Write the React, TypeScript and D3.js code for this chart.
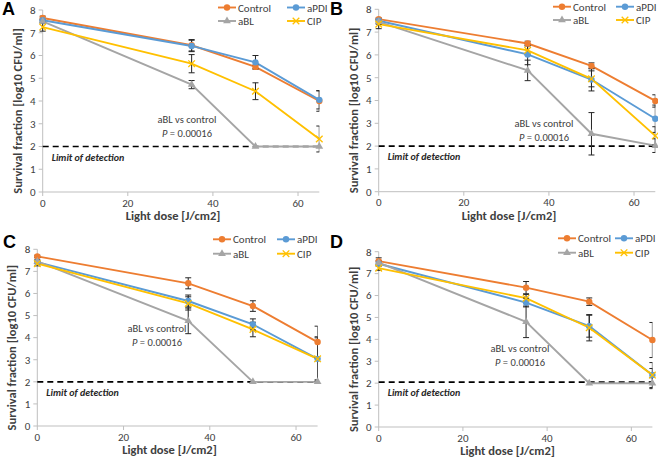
import React from "react";
import * as d3 from "d3";

// ---------- data ----------
const doses = [0, 35, 50, 65];
const seriesNames = ["Control", "aPDI", "aBL", "CIP"];
const panelLabels = ["A", "B", "C", "D"];
const xTicks = [0, 20, 40, 60];
const yTicks = [0, 1, 2, 3, 4, 5, 6, 7, 8];
const limitOfDetection = [2.0, 2.0, 2.0, 2.05];

// panel A
const controlA = [7.65, 6.45, 5.5, 4.0];
const controlErrA = [0.08, 0.25, 0.08, 0.45];
const aPDIA = [7.55, 6.42, 5.7, 4.05];
const aPDIErrA = [0.05, 0.25, 0.3, 0.4];
const aBLA = [7.5, 4.72, 2.0, 2.0];
const aBLErrA = [0.05, 0.18, 0, 0];
const cipA = [7.25, 5.64, 4.43, 2.33];
const cipErrA = [0.18, 0.4, 0.37, 0.57];

// panel B
const controlB = [7.57, 6.5, 5.52, 3.98];
const controlErrB = [0.05, 0.1, 0.13, 0.27];
const aPDIB = [7.5, 6.02, 4.92, 3.2];
const aPDIErrB = [0.1, 0.45, 0.5, 0.6];
const aBLB = [7.45, 5.32, 2.54, 2.02];
const aBLErrB = [0.1, 0.45, 0.93, 0.3];
const cipB = [7.35, 6.2, 4.95, 2.45];
const cipErrB = [0.2, 0.2, 0.35, 0.4];

// panel C
const controlC = [7.68, 6.46, 5.43, 3.8];
const controlErrC = [0.05, 0.25, 0.24, 0.72];
const aPDIC = [7.42, 5.66, 4.6, 3.04];
const aPDIErrC = [0.05, 0.27, 0.25, 1.0];
const aBLC = [7.45, 4.76, 2.0, 2.0];
const aBLErrC = [0.1, 0.58, 0, 0];
const cipC = [7.35, 5.55, 4.37, 3.04];
const cipErrC = [0.1, 0.3, 0.33, 0.95];

// panel D
const controlD = [7.57, 6.36, 5.72, 3.97];
const controlErrD = [0.15, 0.28, 0.17, 0.8];
const aPDID = [7.45, 5.68, 4.6, 2.37];
const aPDIErrD = [0.1, 0.2, 0.5, 0.57];
const aBLD = [7.5, 4.8, 2.0, 2.0];
const aBLErrD = [0.1, 0.72, 0, 0.25];
const cipD = [7.25, 5.88, 4.53, 2.37];
const cipErrD = [0.1, 0.17, 0.6, 0.3];

const panelValues = [
  [controlA, aPDIA, aBLA, cipA],
  [controlB, aPDIB, aBLB, cipB],
  [controlC, aPDIC, aBLC, cipC],
  [controlD, aPDID, aBLD, cipD],
];
const panelErrors = [
  [controlErrA, aPDIErrA, aBLErrA, cipErrA],
  [controlErrB, aPDIErrB, aBLErrB, cipErrB],
  [controlErrC, aPDIErrC, aBLErrC, cipErrC],
  [controlErrD, aPDIErrD, aBLErrD, cipErrD],
];

// ---------- styles / layout ----------
const colors = ["#ED7D31", "#5B9BD5", "#A5A5A5", "#FFC000"];
const FONT = "Carlito, Lato, 'Open Sans', sans-serif";
const axisColor = "#BFBFBF";
const textColor = "#404040";

const layouts = [
  { left: 42.7, right: 319.3, top: 10, bottom: 192, lx1: 218, lx2: 287, ly1: 7.5, ly2: 21, labX: 2, labY: 15, annX: 187, annY: 119 },
  { left: 378.7, right: 655.3, top: 9.3, bottom: 191.7, lx1: 553, lx2: 616, ly1: 6.7, ly2: 20, labX: 330, labY: 15, annX: 544, annY: 123 },
  { left: 37.3, right: 317.6, top: 249.3, bottom: 426, lx1: 213, lx2: 277, ly1: 239.3, ly2: 253.7, labX: 3, labY: 248, annX: 157, annY: 328 },
  { left: 378.7, right: 652.4, top: 251.7, bottom: 427, lx1: 558, lx2: 615, ly1: 238.3, ly2: 252.7, labX: 330, labY: 248, annX: 520, annY: 348 },
];

function Marker({ kind, x, y, color }: { kind: number; x: number; y: number; color: string }) {
  if (kind === 0 || kind === 1) {
    return <circle cx={x} cy={y} r={3.2} fill={color} />;
  }
  if (kind === 2) {
    const p = d3.symbol(d3.symbolTriangle, 26)();
    return <path d={p || ""} transform={`translate(${x},${y})`} fill={color} />;
  }
  const s = 3.3;
  return (
    <path
      d={`M${x - s},${y - s}L${x + s},${y + s}M${x - s},${y + s}L${x + s},${y - s}`}
      stroke={color}
      strokeWidth={1.3}
      fill="none"
    />
  );
}

function Panel({ idx }: { idx: number }) {
  const L = layouts[idx];
  const x = d3.scaleLinear().domain([0, 65]).range([L.left, L.right]);
  const y = d3.scaleLinear().domain([0, 8]).range([L.bottom, L.top]);
  const vals = panelValues[idx];
  const errs = panelErrors[idx];
  const clipId = `clip-${idx}`;
  const line = d3
    .line<number>()
    .x((_, i) => x(doses[i]))
    .y((v) => y(v));
  const lod = limitOfDetection[idx];
  const legendPos = [
    [L.lx1, L.ly1],
    [L.lx2, L.ly1],
    [L.lx1, L.ly2],
    [L.lx2, L.ly2],
  ];
  const titleCx = (L.left + L.right) / 2 - 8;
  const titleCy = (L.top + L.bottom) / 2 + 10;
  return (
    <g>
      <defs>
        <clipPath id={clipId}>
          <rect x={L.left - 30} y={L.top - 30} width={L.right - L.left + 30} height={L.bottom - L.top + 60} />
        </clipPath>
      </defs>
      {/* axes */}
      <line x1={L.left} x2={L.left} y1={L.top} y2={L.bottom} stroke={axisColor} strokeWidth={1} />
      <line x1={L.left} x2={L.right} y1={L.bottom} y2={L.bottom} stroke={axisColor} strokeWidth={1} />
      {yTicks.map((t) => (
        <g key={`yt${t}`}>
          <line x1={L.left - 4} x2={L.left} y1={y(t)} y2={y(t)} stroke={axisColor} />
          <text x={L.left - 7} y={y(t) + 3.8} textAnchor="end" fontSize={11} fill={textColor} fontFamily={FONT}>
            {t}
          </text>
        </g>
      ))}
      {xTicks.map((t) => (
        <g key={`xt${t}`}>
          <line x1={x(t)} x2={x(t)} y1={L.bottom} y2={L.bottom + 4} stroke={axisColor} />
          <text x={x(t)} y={L.bottom + 14.5} textAnchor="middle" fontSize={11} fill={textColor} fontFamily={FONT}>
            {t}
          </text>
        </g>
      ))}
      {/* axis titles */}
      <text
        x={titleCx}
        y={L.bottom + 28}
        textAnchor="middle"
        fontSize={12.5}
        fontWeight="bold"
        fill={textColor}
        fontFamily={FONT}
      >
        Light dose [J/cm2]
      </text>
      <text
        transform={`translate(${L.left - 21},${titleCy}) rotate(-90)`}
        textAnchor="middle"
        fontSize={12.5}
        fontWeight="bold"
        fill={textColor}
        fontFamily={FONT}
      >
        Survival fraction [log10 CFU/ml]
      </text>
      {/* panel label */}
      <text x={L.labX} y={L.labY} fontSize={18} fontWeight="bold" fill="#000" fontFamily="'Liberation Sans', Arial, sans-serif">
        {panelLabels[idx]}
      </text>
      {/* limit of detection */}
      <line
        x1={x(0)}
        x2={x(65)}
        y1={y(lod)}
        y2={y(lod)}
        stroke="#000"
        strokeWidth={1.6}
        strokeDasharray="6,4"
      />
      <text
        x={x(0) + 9}
        y={y(lod) + 14}
        fontSize={10}
        fontStyle="italic"
        fontWeight="bold"
        fill="#262626"
        fontFamily={FONT}
      >
        Limit of detection
      </text>
      {/* annotation */}
      <text x={L.annX} y={L.annY + 3.5} textAnchor="middle" fontSize={10.5} fill={textColor} fontFamily={FONT}>
        aBL vs control
      </text>
      <text x={L.annX} y={L.annY + 17.5} textAnchor="middle" fontSize={10.5} fill={textColor} fontFamily={FONT}>
        <tspan fontStyle="italic">P</tspan> = 0.00016
      </text>
      {/* series lines */}
      {vals.map((v, s) => (
        <path key={`l${s}`} d={line(v) || ""} fill="none" stroke={colors[s]} strokeWidth={1.9} />
      ))}
      {/* error bars */}
      <g clipPath={`url(#${clipId})`}>
        {vals.map((v, s) =>
          v.map((m, i) => {
            const e = errs[s][i];
            if (!e) return null;
            const cx = x(doses[i]);
            const y1 = y(m + e);
            const y2 = y(m - e);
            return (
              <g key={`e${s}-${i}`} stroke="#262626" strokeWidth={1}>
                <line x1={cx} x2={cx} y1={y1} y2={y2} />
                <line x1={cx - 3} x2={cx + 3} y1={y1} y2={y1} />
                <line x1={cx - 3} x2={cx + 3} y1={y2} y2={y2} />
              </g>
            );
          })
        )}
      </g>
      {/* markers */}
      {vals.map((v, s) =>
        v.map((m, i) => <Marker key={`m${s}-${i}`} kind={s} x={x(doses[i])} y={y(m)} color={colors[s]} />)
      )}
      {/* legend */}
      {seriesNames.map((name, s) => {
        const [lx, ly] = legendPos[s];
        return (
          <g key={`lg${s}`}>
            <line x1={lx} x2={lx + 18} y1={ly} y2={ly} stroke={colors[s]} strokeWidth={1.9} />
            <Marker kind={s} x={lx + 9} y={ly} color={colors[s]} />
            <text x={lx + 20} y={ly + 4} fontSize={11} fill={textColor} fontFamily={FONT}>
              {name}
            </text>
          </g>
        );
      })}
    </g>
  );
}

export default function App() {
  return (
    <svg width={658} height={462} style={{ position: "absolute", left: 0, top: 0, background: "#fff" }}>
      <rect x={0} y={0} width={658} height={462} fill="#fff" />
      {[0, 1, 2, 3].map((i) => (
        <Panel key={i} idx={i} />
      ))}
    </svg>
  );
}
